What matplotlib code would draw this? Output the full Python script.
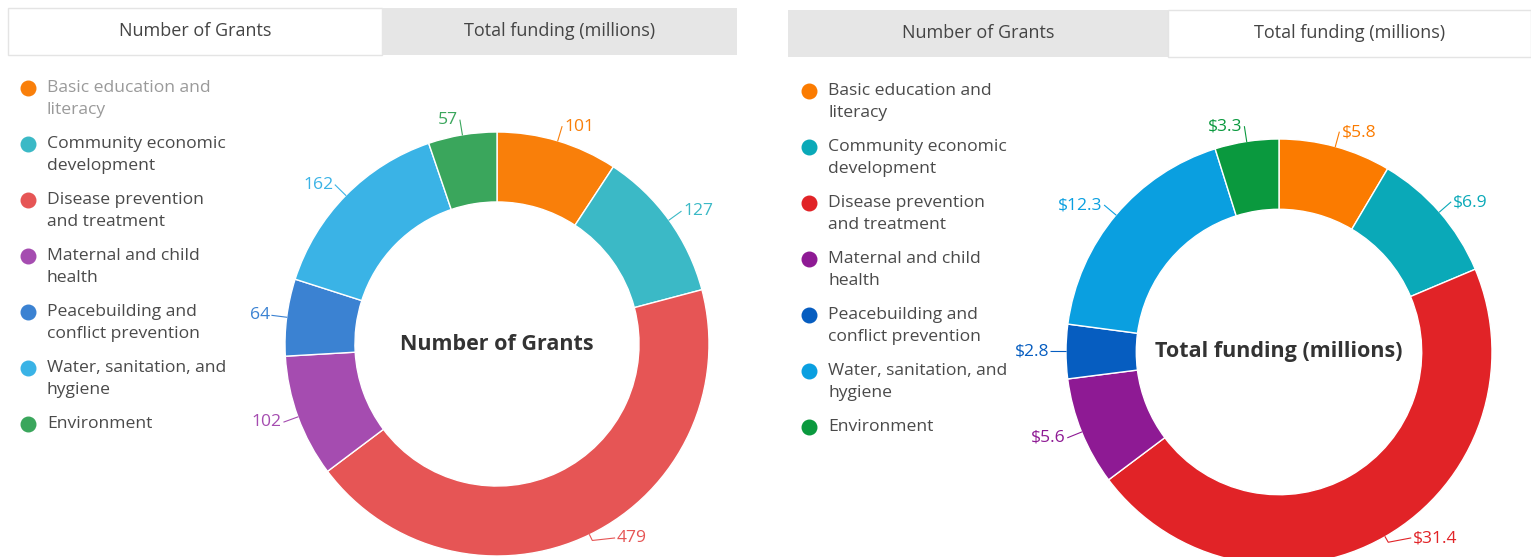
import matplotlib.pyplot as plt
from matplotlib.patches import Rectangle
import numpy as np

W, H = 1531, 557
plt.rcParams['font.family'] = ['Open Sans', 'DejaVu Sans']

categories = ["Basic education and\nliteracy", "Community economic\ndevelopment",
              "Disease prevention\nand treatment", "Maternal and child\nhealth",
              "Peacebuilding and\nconflict prevention", "Water, sanitation, and\nhygiene",
              "Environment"]
grants = [101, 127, 479, 102, 64, 162, 57]
funding = [5.8, 6.9, 31.4, 5.6, 2.8, 12.3, 3.3]
grant_labels = [str(v) for v in grants]
funding_labels = ["$" + f"{v:.1f}" for v in funding]
tab_names = ["Number of Grants", "Total funding (millions)"]

colors_soft = ['#f97f0a', '#3bb9c6', '#e65555', '#a54cb0', '#3b82d2', '#3ab3e6', '#3aa65c']
colors_bold = ['#fb7b00', '#0aa9b8', '#e12327', '#8e1a94', '#065dc0', '#0a9fe0', '#0a993e']

fig = plt.figure(figsize=(W / 100, H / 100), dpi=100)
bg = fig.add_axes([0, 0, 1, 1])
bg.set_xlim(0, W)
bg.set_ylim(H, 0)
bg.axis('off')


def draw_tabs(x0, xm, x1, y0, y1, active):
    # active tab white with thin border, other one grey
    spans = [(x0, xm), (xm, x1)]
    for k, (a, b) in enumerate(spans):
        if k == active:
            bg.add_patch(Rectangle((a, y0), b - a, y1 - y0, facecolor='white',
                                   edgecolor='#e4e4e4', lw=1))
        else:
            bg.add_patch(Rectangle((a, y0), b - a, y1 - y0, facecolor='#e6e6e6',
                                   edgecolor='none'))
        bg.text((a + b) / 2, (y0 + y1) / 2, tab_names[k], ha='center', va='center',
                fontsize=13, color='#444444')


def draw_legend(x, y, colors, first_color):
    for i, cat in enumerate(categories):
        bg.scatter([x], [y], s=110, color=colors[i], zorder=3)
        col = first_color if i == 0 else '#4a4a4a'
        lines = cat.split('\n')
        for k, line in enumerate(lines):
            bg.text(x + 19, y + 22 * k, line, ha='left', va='center', fontsize=12.6, color=col)
        y += 22 * len(lines) + 12


def draw_donut(cx, cy, r, values, labels, colors, title):
    ax = fig.add_axes([(cx - r) / W, (H - cy - r) / H, 2 * r / W, 2 * r / H])
    ax.pie(values, colors=colors, startangle=90, counterclock=False, radius=1,
           wedgeprops=dict(width=0.33, edgecolor='white', linewidth=1))
    ax.set_xlim(-1, 1)
    ax.set_ylim(-1, 1)
    ax.axis('off')
    ax.text(0, 0, title, ha='center', va='center', fontsize=15.5, fontweight='bold',
            color='#333333')
    ymin = -(538 - cy) / r
    cum = np.cumsum([0] + list(values))
    total = cum[-1]
    for i in range(len(values)):
        mid = (cum[i] + cum[i + 1]) / 2 / total * 360
        ang = np.radians(90 - mid)
        ex, ey = np.cos(ang), np.sin(ang)
        rl = 1.07
        lx, ly = rl * ex, rl * ey
        if ly < ymin:
            ly = ymin
            lx = np.sign(ex) * np.sqrt(rl ** 2 - ly ** 2)
        sx = 1 if lx >= 0 else -1
        ax.plot([ex, 1.03 * ex, lx], [ey, 1.03 * ey, ly], color=colors[i], lw=0.8,
                clip_on=False)
        ax.text(lx + sx * 0.01, ly, labels[i], ha='left' if sx > 0 else 'right',
                va='center', fontsize=12.6, color=colors[i], clip_on=False)


# left panel: number of grants
draw_tabs(8, 382, 737, 8, 55, 0)
draw_legend(28, 88, colors_soft, '#9a9a9a')
draw_donut(497, 344, 212, grants, grant_labels, colors_soft, "Number of Grants")

# right panel: total funding
draw_tabs(788, 1168, 1531, 10, 57, 1)
draw_legend(809, 91, colors_bold, '#4a4a4a')
draw_donut(1279, 352, 213, funding, funding_labels, colors_bold, "Total funding (millions)")

fig.savefig('out.png', dpi=100)
